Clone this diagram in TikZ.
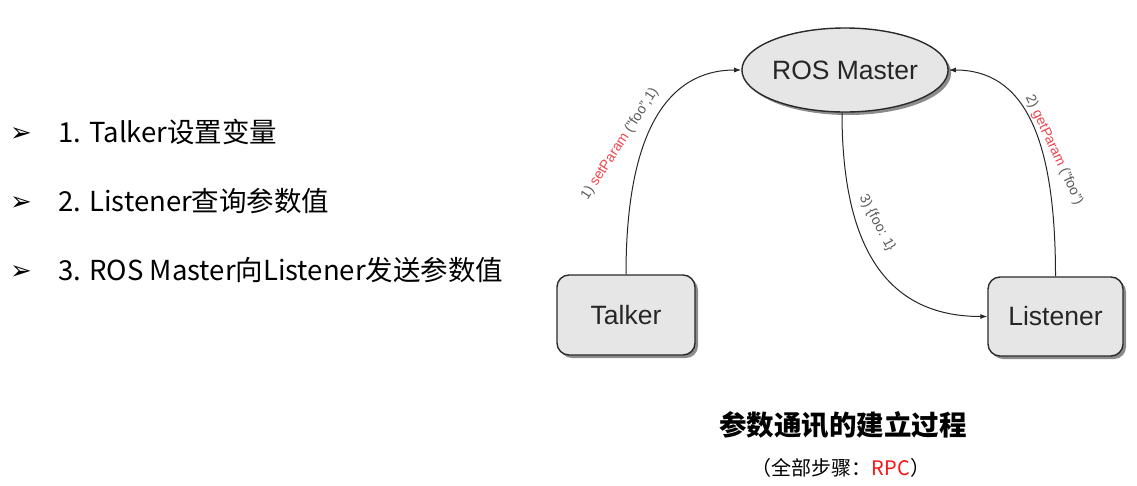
\documentclass[tikz,border=0pt]{standalone}
\usepackage{fontspec}
\setmainfont{Liberation Sans}
\newfontfamily\cjk{Noto Sans CJK SC}
\newfontfamily\dingfont{DejaVu Sans}
\usetikzlibrary{shapes.geometric,shadows,arrows.meta}
\definecolor{nodefill}{HTML}{E6E6E6}
\definecolor{nodeline}{HTML}{2A2A2A}
\definecolor{lblgray}{HTML}{5A5A5A}
\definecolor{lblred}{RGB}{235,70,80}
\definecolor{rpcred}{RGB}{250,20,20}
\tikzset{
  rosnode/.style={draw=nodeline, line width=1.4pt, fill=nodefill,
    drop shadow={shadow xshift=3pt, shadow yshift=-3pt, opacity=0.6, fill=black!75},
    font=\fontsize{26.5}{30}\selectfont, text=black!85, inner sep=0pt},
  boxnode/.style={rosnode, rectangle, rounded corners=12pt, minimum width=138pt, minimum height=80pt},
  conn/.style={-{Latex[length=7pt,width=5pt]}, line width=1pt, black!85},
  lbl/.style={font=\fontsize{14}{16}\selectfont, text=lblgray, inner sep=0pt},
  bullettxt/.style={font=\cjk\fontsize{27.5}{32}\selectfont, anchor=base west, inner sep=0pt},
  bulletmark/.style={font=\dingfont\fontsize{26}{30}\selectfont, anchor=base west, inner sep=0pt},
}
\begin{document}
\begin{tikzpicture}[x=1pt,y=-1pt]
\useasboundingbox (0,0) rectangle (1137,485);
% bullets
\node[bulletmark] (b1) at (10,141) {➢};
\node[bullettxt] (t1) at (58,142) {1. Talker设置变量};
\node[bulletmark] (b2) at (10,210) {➢};
\node[bullettxt] (t2) at (58,211) {2. Listener查询参数值};
\node[bulletmark] (b3) at (10,279) {➢};
\node[bullettxt] (t3) at (58,280) {3. ROS Master向Listener发送参数值};
% nodes
\node[rosnode, ellipse, minimum width=196pt, minimum height=84pt] (M) at (845,70) {ROS Master};
\node[boxnode] (T) at (626,315) {Talker};
\node[boxnode, minimum width=135pt, minimum height=79pt] (L) at (1055.5,316.5) {Listener};
% connectors
\draw[conn] (T.north) .. controls +(0,-140) and +(-75,0) .. (M.west);
\draw[conn] (L.north) .. controls +(0,-140) and +(75,0) .. (M.east);
\draw[conn] ([xshift=-3pt]M.south) .. controls +(0,150) and +(-90,0) .. (L.west);
% labels
\node[lbl, rotate=57] (l1) at (620,144) {1) \textcolor{lblred}{setParam} ("foo",1)};
\node[lbl, rotate=-65] (l2) at (1054,150) {2) \textcolor{lblred}{getParam} ("foo")};
\node[lbl, rotate=-62] (l3) at (877,223) {3) \{foo: 1\}};
% captions
\node[font=\cjk\bfseries\fontsize{27.5}{32}\selectfont, inner sep=0pt] (cap) at (843,425) {参数通讯的建立过程};
\node[font=\cjk\fontsize{20}{24}\selectfont, inner sep=0pt] (sub) at (841,468) {（全部步骤：\textcolor{rpcred}{RPC}）};
\end{tikzpicture}
\end{document}
